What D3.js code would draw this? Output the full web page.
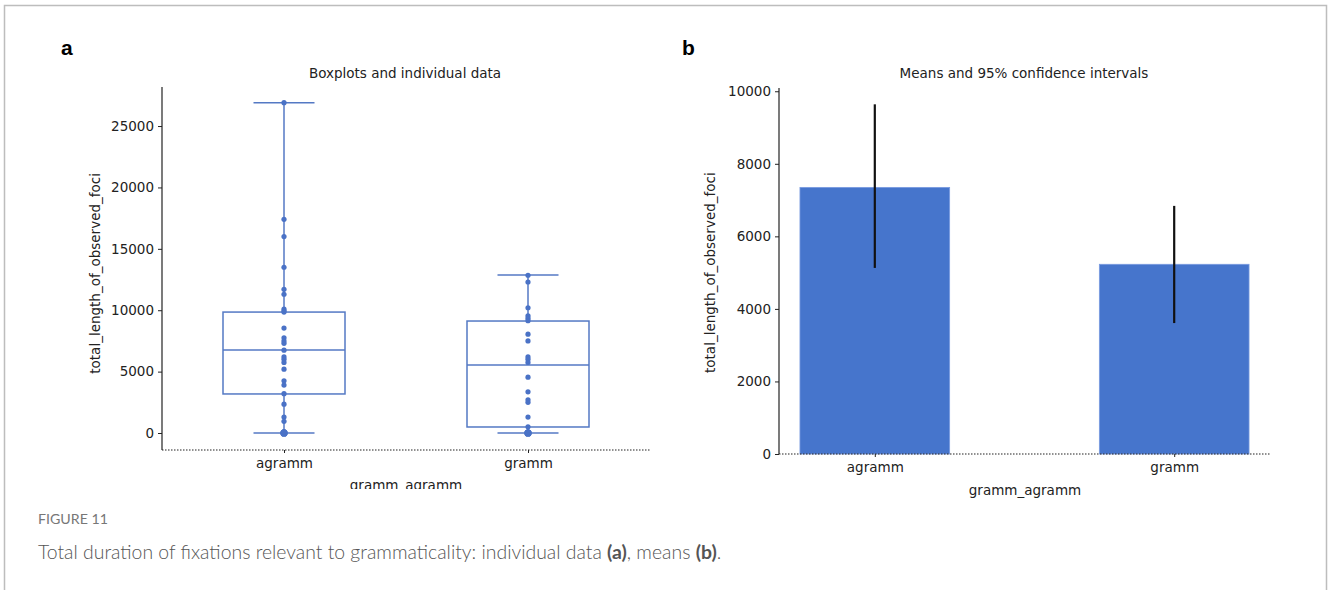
<!DOCTYPE html>
<html>
<head>
<meta charset="utf-8">
<script src="https://cdn.jsdelivr.net/npm/d3@7"></script>
<style>
  body { margin: 0; background: #fff; }
  svg { display: block; }
</style>
</head>
<body>
<div id="chart"></div>
<script>
// categories and values
var categories = ['agramm', 'gramm'];

// panel a: individual observations
var agrammValues = [26900, 17400, 16000, 13500, 11700, 11300, 10100, 9950, 9850, 8550,
    7750, 7500, 7300, 6750, 6200, 6000, 5750, 5200, 4250, 3900, 3200, 2350, 1300, 950,
    0, 0, 0, 60, 110];
var grammValues = [12850, 12300, 10200, 9550, 9350, 9150, 8050, 7500, 6200, 6000, 5750,
    4550, 3350, 2700, 2500, 1300, 500, 100, 0, 0, 0, 60];

// box statistics (whisker low, q1, median, q3, whisker high)
var whiskLow = [0, 0];
var q1 = [3180, 490];
var median = [6760, 5540];
var q3 = [9850, 9120];
var whiskHigh = [26900, 12870];

// panel b: means and 95% CI
var means = [7350, 5230];
var ciLow = [5130, 3610];
var ciHigh = [9640, 6840];

var leftTicks = [0, 5000, 10000, 15000, 20000, 25000];
var rightTicks = [0, 2000, 4000, 6000, 8000, 10000];

var W = 1328, H = 590;
var font = 'DejaVu Sans, sans-serif';
var fs = 13.5;
var boxColor = '#5479c4';
var dotColor = '#4a72c6';
var barColor = '#4675cc';

var svg = d3.select('#chart').append('svg')
    .attr('width', W)
    .attr('height', H);

// page frame
svg.append('path')
    .attr('d', 'M4.5,' + H + 'V5.5H1326.5V' + H)
    .attr('fill', 'none')
    .attr('stroke', '#bdbdbd')
    .attr('stroke-width', 1.5);

// panel letters
svg.append('text').attr('x', 61).attr('y', 55).text('a')
    .attr('font-family', 'Liberation Sans, Arial, sans-serif').attr('font-weight', 'bold').attr('font-size', 21);
svg.append('text').attr('x', 682).attr('y', 55).text('b')
    .attr('font-family', 'Liberation Sans, Arial, sans-serif').attr('font-weight', 'bold').attr('font-size', 21);

function styleAxis(g) {
    g.selectAll('text').attr('font-family', font).attr('font-size', fs).attr('fill', '#222');
    g.selectAll('line').attr('stroke', '#222');
    g.select('.domain').remove();
}

// ---------- panel a: boxplots ----------
var xa = d3.scaleLinear().domain([-0.5, 1.5]).range([162, 650]);
var ya = d3.scaleLinear().domain([-1384, 28180]).range([450, 87]);

var gA = svg.append('g');

gA.append('line')
    .attr('x1', xa(-0.5)).attr('x2', xa(-0.5))
    .attr('y1', ya.range()[0]).attr('y2', ya.range()[1])
    .attr('stroke', '#222').attr('stroke-width', 1.2);
gA.append('line')
    .attr('x1', xa(-0.5)).attr('x2', xa(1.5))
    .attr('y1', ya.range()[0]).attr('y2', ya.range()[0])
    .attr('stroke', '#222').attr('stroke-width', 1.2)
    .attr('stroke-dasharray', '1.5,1.5');

gA.append('g')
    .attr('transform', 'translate(' + xa(-0.5) + ',0)')
    .call(d3.axisLeft(ya).tickValues(leftTicks).tickFormat(d3.format('d')).tickSize(4).tickPadding(4))
    .call(styleAxis);

gA.append('g')
    .attr('transform', 'translate(0,' + ya.range()[0] + ')')
    .call(d3.axisBottom(xa).tickValues([0, 1]).tickFormat(function (d) { return categories[d]; })
        .tickSize(3).tickPadding(5))
    .call(styleAxis);

gA.append('text')
    .attr('x', 405).attr('y', 78)
    .attr('text-anchor', 'middle')
    .attr('font-family', font).attr('font-size', fs).attr('fill', '#222')
    .text('Boxplots and individual data');

gA.append('text')
    .attr('transform', 'translate(100,' + ya(13000) + ') rotate(-90)')
    .attr('text-anchor', 'middle')
    .attr('font-family', font).attr('font-size', fs).attr('fill', '#222')
    .text('total_length_of_observed_foci');

svg.append('clipPath').attr('id', 'clipA')
    .append('rect').attr('x', 300).attr('y', 470).attr('width', 220).attr('height', 19);
gA.append('text')
    .attr('x', 406).attr('y', 490)
    .attr('clip-path', 'url(#clipA)')
    .attr('text-anchor', 'middle')
    .attr('font-family', font).attr('font-size', fs).attr('fill', '#222')
    .text('gramm_agramm');

categories.forEach(function (c, i) {
    var g = gA.append('g').attr('fill', 'none').attr('stroke', boxColor).attr('stroke-width', 1.5);
    // whisker line
    g.append('line')
        .attr('x1', xa(i)).attr('x2', xa(i))
        .attr('y1', ya(whiskLow[i])).attr('y2', ya(q1[i]));
    g.append('line')
        .attr('x1', xa(i)).attr('x2', xa(i))
        .attr('y1', ya(q3[i])).attr('y2', ya(whiskHigh[i]));
    // caps
    [whiskLow[i], whiskHigh[i]].forEach(function (v) {
        g.append('line')
            .attr('x1', xa(i - 0.125)).attr('x2', xa(i + 0.125))
            .attr('y1', ya(v)).attr('y2', ya(v));
    });
    // box
    g.append('rect')
        .attr('x', xa(i - 0.25)).attr('width', xa(i + 0.25) - xa(i - 0.25))
        .attr('y', ya(q3[i])).attr('height', ya(q1[i]) - ya(q3[i]));
    g.append('line')
        .attr('x1', xa(i - 0.25)).attr('x2', xa(i + 0.25))
        .attr('y1', ya(median[i])).attr('y2', ya(median[i]));
});

// individual points
var pts = [];
agrammValues.forEach(function (v) { pts.push({ c: 0, v: v }); });
grammValues.forEach(function (v) { pts.push({ c: 1, v: v }); });
gA.selectAll('circle.pt')
    .data(pts)
    .enter().append('circle')
    .attr('class', 'pt')
    .attr('cx', function (d) { return xa(d.c); })
    .attr('cy', function (d) { return ya(d.v); })
    .attr('r', function (d) { return d.v === 0 ? 3.6 : 2.6; })
    .attr('fill', dotColor);

// ---------- panel b: means ----------
var xb = d3.scaleLinear().domain([-0.32, 1.32]).range([779, 1270]);
var yb = d3.scaleLinear().domain([0, 10090]).range([454, 88]);

var gB = svg.append('g');

gB.selectAll('rect.bar')
    .data(means)
    .enter().append('rect')
    .attr('class', 'bar')
    .attr('x', function (d, i) { return xb(i - 0.25); })
    .attr('width', xb(0.25) - xb(-0.25))
    .attr('y', function (d) { return yb(d); })
    .attr('height', function (d) { return yb(0) - yb(d); })
    .attr('fill', barColor)
    .attr('stroke', '#7a9be0')
    .attr('stroke-width', 0.8);

gB.selectAll('line.ci')
    .data(means)
    .enter().append('line')
    .attr('class', 'ci')
    .attr('x1', function (d, i) { return xb(i); })
    .attr('x2', function (d, i) { return xb(i); })
    .attr('y1', function (d, i) { return yb(ciLow[i]); })
    .attr('y2', function (d, i) { return yb(ciHigh[i]); })
    .attr('stroke', '#111')
    .attr('stroke-width', 2.2);

gB.append('line')
    .attr('x1', xb(-0.32)).attr('x2', xb(-0.32))
    .attr('y1', yb.range()[0]).attr('y2', yb.range()[1])
    .attr('stroke', '#222').attr('stroke-width', 1.2);
gB.append('line')
    .attr('x1', xb(-0.32)).attr('x2', xb(1.32))
    .attr('y1', yb(0)).attr('y2', yb(0))
    .attr('stroke', '#222').attr('stroke-width', 1.2)
    .attr('stroke-dasharray', '1.5,1.5');

gB.append('g')
    .attr('transform', 'translate(' + xb(-0.32) + ',0)')
    .call(d3.axisLeft(yb).tickValues(rightTicks).tickFormat(d3.format('d')).tickSize(4).tickPadding(4))
    .call(styleAxis);

gB.append('g')
    .attr('transform', 'translate(0,' + yb(0) + ')')
    .call(d3.axisBottom(xb).tickValues([0, 1]).tickFormat(function (d) { return categories[d]; })
        .tickSize(3).tickPadding(5))
    .call(styleAxis);

gB.append('text')
    .attr('x', 1024).attr('y', 78)
    .attr('text-anchor', 'middle')
    .attr('font-family', font).attr('font-size', fs).attr('fill', '#222')
    .text('Means and 95% confidence intervals');

gB.append('text')
    .attr('transform', 'translate(715,' + yb(5000) + ') rotate(-90)')
    .attr('text-anchor', 'middle')
    .attr('font-family', font).attr('font-size', fs).attr('fill', '#222')
    .text('total_length_of_observed_foci');

gB.append('text')
    .attr('x', 1025).attr('y', 495)
    .attr('text-anchor', 'middle')
    .attr('font-family', font).attr('font-size', fs).attr('fill', '#222')
    .text('gramm_agramm');

// ---------- caption ----------
svg.append('text')
    .attr('x', 38).attr('y', 524)
    .attr('font-family', 'Lato, sans-serif').attr('font-size', 14.2).attr('fill', '#777')
    .text('FIGURE 11');

var cap = svg.append('text')
    .attr('x', 38).attr('y', 559)
    .attr('font-family', 'Lato, sans-serif').attr('font-weight', 300).attr('font-size', 19.4).attr('fill', '#555');
cap.append('tspan').text('Total duration of fixations relevant to grammaticality: individual data ');
cap.append('tspan').attr('font-weight', 'bold').text('(a)');
cap.append('tspan').text(', means ');
cap.append('tspan').attr('font-weight', 'bold').text('(b)');
cap.append('tspan').text('.');
</script>
</body>
</html>
